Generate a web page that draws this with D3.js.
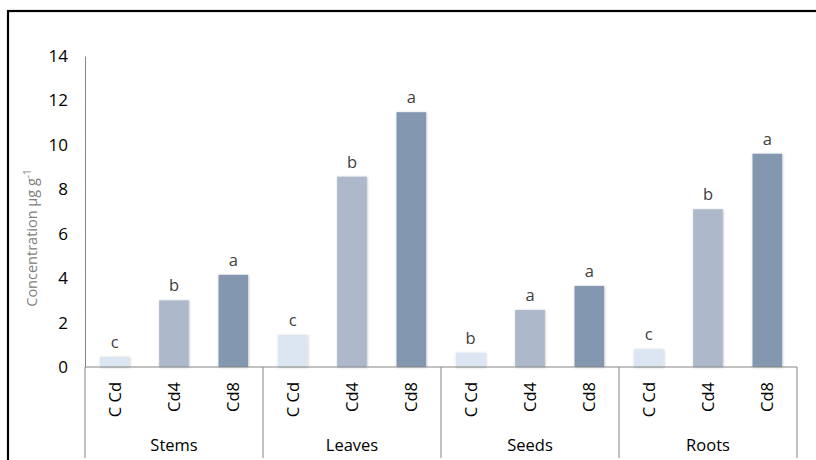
<!DOCTYPE html>
<html><head><meta charset="utf-8">
<script src="https://cdn.jsdelivr.net/npm/d3@7"></script>
<style>body{margin:0;background:#fff;}svg{display:block;font-family:"Open Sans",Lato,sans-serif;}</style>
</head><body><svg id="c" width="816" height="460"></svg>
<script>
const groups = ["Stems","Leaves","Seeds","Roots"];
const treatments = ["C Cd","Cd4","Cd8"];
const values = {
  "C Cd": [0.45, 1.45, 0.64, 0.8],
  "Cd4":  [3.0, 8.57, 2.57, 7.1],
  "Cd8":  [4.15, 11.47, 3.65, 9.6]
};
const letters = {
  "C Cd": ["c","c","b","c"],
  "Cd4":  ["b","b","a","b"],
  "Cd8":  ["a","a","a","a"]
};
const yTicks = [0,2,4,6,8,10,12,14];
const colors = ["#dce6f2","#adb9ca","#8497b0"];

const svg = d3.select("#c");
const defs = svg.append("defs");
const f = defs.append("filter").attr("id","sh").attr("x","-20%").attr("y","-20%").attr("width","140%").attr("height","140%");
f.append("feDropShadow").attr("dx",0.5).attr("dy",0.5).attr("stdDeviation",1).attr("flood-color","#000").attr("flood-opacity",0.25);

// outer border
svg.append("rect").attr("x",8).attr("y",11).attr("width",820).attr("height",460)
  .attr("fill","none").attr("stroke","#000").attr("stroke-width",2.2);

const x0 = d3.scaleBand().domain(groups).range([85,797]).paddingInner(0).paddingOuter(0);
const x1 = d3.scaleBand().domain(treatments).range([0,x0.bandwidth()]).paddingInner(0.5).paddingOuter(0.25);
const y = d3.scaleLinear().domain([0,14]).range([367,56]);

// y axis
const yAxis = d3.axisLeft(y).tickValues(yTicks).tickSize(0).tickPadding(17);
const ya = svg.append("g").attr("transform","translate(85,0)").call(yAxis);
ya.select(".domain").attr("stroke","#868686");
ya.selectAll("text").attr("font-size",17).attr("fill","#000").attr("font-family","'Open Sans',Lato,sans-serif");

// y label
const yl = svg.append("text").attr("transform","translate(37,238) rotate(-90)")
  .attr("text-anchor","middle").attr("fill","#808080").attr("font-size",14.5);
yl.append("tspan").text("Concentration µg g");
yl.append("tspan").text("-1").attr("font-size",10).attr("dy",-6);

// bars
const data = [];
groups.forEach((g,i)=>treatments.forEach((t,j)=>data.push({g,t,j,v:values[t][i],l:letters[t][i]})));
svg.append("g").selectAll("rect").data(data).join("rect")
  .attr("x",d=>x0(d.g)+x1(d.t)).attr("width",x1.bandwidth())
  .attr("y",d=>y(d.v)).attr("height",d=>y(0)-y(d.v))
  .attr("fill",d=>colors[d.j]).attr("filter","url(#sh)");

svg.append("g").selectAll("text").data(data).join("text")
  .attr("x",d=>x0(d.g)+x1(d.t)+x1.bandwidth()/2).attr("y",d=>y(d.v)-9)
  .attr("text-anchor","middle").attr("font-size",16.5).attr("fill","#404040").text(d=>d.l);

// x axis baseline
svg.append("line").attr("x1",85).attr("x2",797).attr("y1",367).attr("y2",367).attr("stroke","#868686");
// group dividers
const bounds = groups.map(g=>x0(g)).concat([797]);
svg.append("g").selectAll("line").data(bounds).join("line")
  .attr("x1",d=>d).attr("x2",d=>d).attr("y1",367).attr("y2",458).attr("stroke","#868686");

// treatment labels (rotated)
svg.append("g").selectAll("text").data(data).join("text")
  .attr("transform",d=>`translate(${x0(d.g)+x1(d.t)+x1.bandwidth()/2+6},382) rotate(-90)`)
  .attr("text-anchor","end").attr("font-size",16.5).attr("fill","#000").text(d=>d.t);

// group labels
svg.append("g").selectAll("text").data(groups).join("text")
  .attr("x",g=>x0(g)+x0.bandwidth()/2).attr("y",451).attr("text-anchor","middle")
  .attr("font-size",16.5).attr("fill","#000").text(g=>g);
</script></body></html>
